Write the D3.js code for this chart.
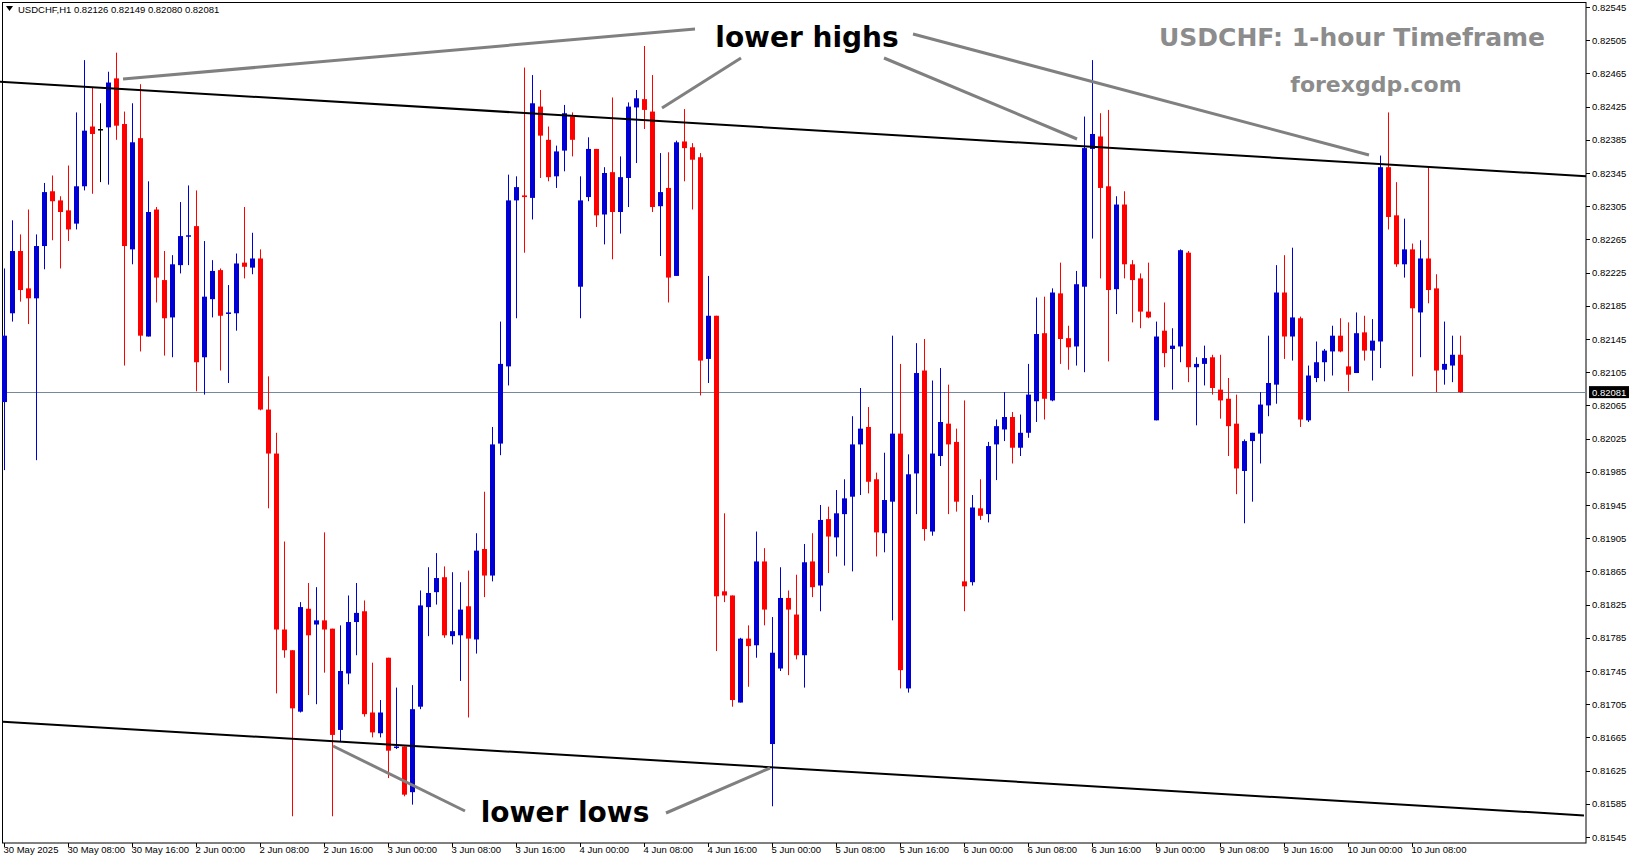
<!DOCTYPE html>
<html>
<head>
<meta charset="utf-8">
<script src="https://cdn.jsdelivr.net/npm/d3@7"></script>
<style>
  body { margin: 0; background: #fff; }
  svg { display: block; }
</style>
</head>
<body>
<svg id="chart"></svg>
<script>
/* chart data: USDCHF H1, 30 May 2025 00:00 .. 10 Jun 2025 14:00 */
const opens = [0.82069,0.82176,0.82251,0.82206,0.82194,0.82257,0.82323,0.82312,0.82300,0.82284,0.82329,0.82401,0.82398,0.82400,0.82459,0.82404,0.82253,0.82387,0.82148,0.82301,0.82216,0.82171,0.82234,0.82269,0.82281,0.82123,0.82193,0.82228,0.82176,0.82176,0.82237,0.82231,0.82242,0.82060,0.82007,0.81795,0.81770,0.81696,0.81820,0.81801,0.81806,0.81796,0.81674,0.81742,0.81804,0.81817,0.81695,0.81670,0.81761,0.81653,0.81654,0.81599,0.81702,0.81822,0.81840,0.81858,0.81787,0.81788,0.81823,0.81783,0.81892,0.81860,0.82019,0.82112,0.82312,0.82318,0.82315,0.82425,0.82385,0.82341,0.82372,0.82413,0.82208,0.82316,0.82374,0.82295,0.82346,0.82298,0.82339,0.82424,0.82434,0.82419,0.82305,0.82327,0.82221,0.82383,0.82376,0.82364,0.82121,0.82173,0.81841,0.81836,0.81707,0.81784,0.81776,0.81877,0.81657,0.81748,0.81833,0.81813,0.81764,0.81877,0.81848,0.81928,0.81906,0.81934,0.81955,0.82018,0.82039,0.81976,0.81911,0.81949,0.82031,0.81724,0.81983,0.82107,0.81913,0.82004,0.82043,0.82021,0.81853,0.81852,0.81941,0.81934,0.82018,0.82036,0.82051,0.82014,0.82032,0.82070,0.82152,0.82071,0.82200,0.82146,0.82136,0.82208,0.82374,0.82389,0.82329,0.82205,0.82307,0.82235,0.82218,0.82178,0.82047,0.82155,0.82133,0.82136,0.82249,0.82111,0.82115,0.82123,0.82084,0.82073,0.82043,0.81986,0.82022,0.82031,0.82065,0.82090,0.82201,0.82148,0.82170,0.82047,0.82098,0.82117,0.82130,0.82149,0.82112,0.82104,0.82153,0.82131,0.82142,0.82352,0.82294,0.82235,0.82253,0.82177,0.82242,0.82206,0.82108,0.82113,0.82126];
const highs = [0.82230,0.82288,0.82271,0.82301,0.82271,0.82333,0.82342,0.82317,0.82354,0.82418,0.82481,0.82448,0.82429,0.82467,0.82490,0.82419,0.82429,0.82452,0.82335,0.82304,0.82251,0.82246,0.82310,0.82330,0.82324,0.82263,0.82240,0.82230,0.82210,0.82248,0.82304,0.82273,0.82253,0.82100,0.82032,0.81901,0.81770,0.81828,0.81851,0.81846,0.81912,0.81796,0.81800,0.81836,0.81851,0.81830,0.81755,0.81710,0.81761,0.81725,0.81654,0.81728,0.81842,0.81870,0.81887,0.81871,0.81864,0.81852,0.81866,0.81911,0.81961,0.82039,0.82166,0.82343,0.82341,0.82472,0.82463,0.82445,0.82401,0.82378,0.82427,0.82418,0.82341,0.82388,0.82374,0.82352,0.82436,0.82365,0.82430,0.82445,0.82498,0.82463,0.82369,0.82370,0.82384,0.82422,0.82381,0.82369,0.82221,0.82173,0.81935,0.81836,0.81785,0.81800,0.81913,0.81893,0.81810,0.81870,0.81842,0.81861,0.81898,0.81911,0.81945,0.81943,0.81963,0.81976,0.82052,0.82086,0.82063,0.81984,0.82008,0.82149,0.82115,0.82006,0.82140,0.82145,0.82095,0.82110,0.82090,0.82037,0.82071,0.81957,0.81976,0.82021,0.82048,0.82081,0.82057,0.82054,0.82115,0.82195,0.82196,0.82206,0.82237,0.82161,0.82227,0.82413,0.82481,0.82417,0.82421,0.82317,0.82323,0.82240,0.82224,0.82237,0.82166,0.82189,0.82158,0.82253,0.82251,0.82123,0.82137,0.82126,0.82126,0.82098,0.82078,0.82024,0.82032,0.82081,0.82149,0.82234,0.82246,0.82255,0.82172,0.82113,0.82142,0.82133,0.82161,0.82170,0.82165,0.82177,0.82173,0.82169,0.82366,0.82418,0.82334,0.82290,0.82260,0.82264,0.82353,0.82223,0.82166,0.82149,0.82149];
const lows = [0.81987,0.82166,0.82190,0.82163,0.81999,0.82229,0.82264,0.82230,0.82263,0.82277,0.82324,0.82320,0.82334,0.82331,0.82385,0.82113,0.82235,0.82130,0.82148,0.82189,0.82125,0.82123,0.82224,0.82234,0.82082,0.82078,0.82171,0.82107,0.82092,0.82155,0.82218,0.82223,0.82059,0.81941,0.81718,0.81761,0.81570,0.81695,0.81716,0.81705,0.81743,0.81570,0.81660,0.81729,0.81764,0.81690,0.81665,0.81665,0.81616,0.81651,0.81594,0.81584,0.81699,0.81787,0.81825,0.81785,0.81777,0.81733,0.81689,0.81766,0.81834,0.81853,0.82005,0.82089,0.82170,0.82249,0.82289,0.82339,0.82335,0.82327,0.82347,0.82365,0.82170,0.82311,0.82280,0.82259,0.82241,0.82272,0.82304,0.82357,0.82398,0.82298,0.82245,0.82189,0.82221,0.82335,0.82301,0.82077,0.82092,0.81769,0.81828,0.81702,0.81707,0.81726,0.81761,0.81800,0.81582,0.81745,0.81740,0.81759,0.81725,0.81834,0.81817,0.81863,0.81883,0.81872,0.81865,0.81957,0.81959,0.81883,0.81888,0.81806,0.81724,0.81719,0.81934,0.81902,0.81908,0.81992,0.81934,0.81937,0.81817,0.81848,0.81927,0.81924,0.81975,0.82022,0.81995,0.82004,0.82026,0.82045,0.82048,0.82070,0.82115,0.82108,0.82113,0.82105,0.82266,0.82218,0.82118,0.82175,0.82218,0.82165,0.82158,0.82170,0.82047,0.82111,0.82084,0.82117,0.82093,0.82041,0.82089,0.82078,0.82049,0.82004,0.81958,0.81923,0.81949,0.81995,0.82052,0.82067,0.82121,0.82119,0.82039,0.82045,0.82093,0.82094,0.82101,0.82129,0.82082,0.82104,0.82119,0.82095,0.82110,0.82277,0.82232,0.82219,0.82100,0.82123,0.82188,0.82081,0.82090,0.82093,0.82080];
const closes = [0.82149,0.82251,0.82204,0.82194,0.82257,0.82322,0.82311,0.82298,0.82277,0.82329,0.82396,0.82392,0.82398,0.82454,0.82402,0.82257,0.82382,0.82149,0.82298,0.82219,0.82170,0.82235,0.82269,0.82270,0.82117,0.82196,0.82227,0.82173,0.82177,0.82236,0.82232,0.82242,0.82060,0.82007,0.81795,0.81770,0.81700,0.81822,0.81788,0.81806,0.81795,0.81668,0.81745,0.81804,0.81815,0.81693,0.81671,0.81695,0.81649,0.81654,0.81596,0.81699,0.81824,0.81839,0.81857,0.81788,0.81793,0.81819,0.81784,0.81890,0.81860,0.82018,0.82115,0.82312,0.82328,0.82316,0.82429,0.82390,0.82340,0.82371,0.82417,0.82385,0.82312,0.82374,0.82294,0.82345,0.82298,0.82340,0.82425,0.82435,0.82421,0.82304,0.82322,0.82219,0.82382,0.82375,0.82361,0.82119,0.82173,0.81835,0.81836,0.81710,0.81784,0.81775,0.81877,0.81819,0.81767,0.81833,0.81819,0.81764,0.81876,0.81846,0.81927,0.81907,0.81935,0.81953,0.82018,0.82037,0.81973,0.81912,0.81951,0.82031,0.81746,0.81982,0.82104,0.81916,0.82007,0.82045,0.82018,0.81949,0.81847,0.81942,0.81932,0.82016,0.82040,0.82051,0.82014,0.82032,0.82078,0.82151,0.82073,0.82201,0.82145,0.82135,0.82211,0.82375,0.82392,0.82327,0.82204,0.82307,0.82235,0.82216,0.82178,0.82171,0.82148,0.82128,0.82137,0.82252,0.82111,0.82115,0.82122,0.82086,0.82071,0.82040,0.81989,0.82022,0.82032,0.82066,0.82092,0.82201,0.82148,0.82171,0.82048,0.82101,0.82117,0.82131,0.82149,0.82130,0.82102,0.82152,0.82131,0.82143,0.82352,0.82292,0.82235,0.82253,0.82182,0.82242,0.82204,0.82107,0.82115,0.82126,0.82081];

/* time labels, one every 8 bars starting at bar 0 */
const timeLabels = ["30 May 2025","30 May 08:00","30 May 16:00","2 Jun 00:00","2 Jun 08:00","2 Jun 16:00","3 Jun 00:00","3 Jun 08:00","3 Jun 16:00","4 Jun 00:00","4 Jun 08:00","4 Jun 16:00","5 Jun 00:00","5 Jun 08:00","5 Jun 16:00","6 Jun 00:00","6 Jun 08:00","6 Jun 16:00","9 Jun 00:00","9 Jun 08:00","9 Jun 16:00","10 Jun 00:00","10 Jun 08:00"];
const priceTicks = d3.range(0, 26).map(i => +(0.81545 + i * 0.0004).toFixed(5));
const lastPrice = 0.82081;

/* channel lines as [bar index, price] pairs */
const upperChannel = [[-0.5, 0.82455], [197.75, 0.82341]];
const lowerChannel = [[-0.125, 0.81684], [197.5, 0.81571]];

const W = 1631, H = 861;
const plotRight = 1586, plotBottom = 843;

const svg = d3.select("#chart").attr("width", W).attr("height", H);

const x = d3.scaleLinear().domain([0, opens.length - 1]).range([4, 4 + 8 * (opens.length - 1)]);
const y = d3.scaleLinear().domain([0.81545, 0.82545]).range([837, 7]);

const bars = opens.map((o, i) => ({ i, o, h: highs[i], l: lows[i], c: closes[i] }));

/* frame */
svg.append("rect")
  .attr("x", 2.5).attr("y", 2.5)
  .attr("width", plotRight - 2.5).attr("height", plotBottom - 2.5)
  .attr("fill", "none").attr("stroke", "#000").attr("stroke-width", 1);

/* last price line */
svg.append("line")
  .attr("x1", 3).attr("x2", plotRight)
  .attr("y1", Math.round(y(lastPrice)) + 0.5).attr("y2", Math.round(y(lastPrice)) + 0.5)
  .attr("stroke", "#778899").attr("stroke-width", 1);

/* candles */
const colorOf = d => d.c > d.o ? "#0000d4" : (d.c < d.o ? "#ff0000" : "#000");
const g = svg.append("g");
g.selectAll("line.wick").data(bars).join("line")
  .attr("class", "wick")
  .attr("x1", d => Math.round(x(d.i)) + 0.5).attr("x2", d => Math.round(x(d.i)) + 0.5)
  .attr("y1", d => y(d.h)).attr("y2", d => y(d.l))
  .attr("stroke", colorOf).attr("stroke-width", 1);
g.selectAll("rect.body").data(bars).join("rect")
  .attr("class", "body")
  .attr("x", d => Math.round(x(d.i)) - 2)
  .attr("y", d => y(Math.max(d.o, d.c)))
  .attr("width", 5)
  .attr("height", d => Math.max(1.5, Math.abs(y(d.o) - y(d.c))))
  .attr("fill", colorOf);

/* channel lines */
const chLine = d3.line().x(d => x(d[0])).y(d => y(d[1]));
[upperChannel, lowerChannel].forEach(pts => {
  svg.append("path").attr("d", chLine(pts))
    .attr("fill", "none").attr("stroke", "#000").attr("stroke-width", 2);
});

/* annotation arrows */
const pointers = [
  [695, 29, 123, 79], [741, 58, 662, 108], [884, 58, 1077, 139], [913, 34, 1369, 155],
  [465, 811, 333, 746], [666, 813, 770, 768]
];
svg.selectAll("line.ptr").data(pointers).join("line")
  .attr("x1", d => d[0]).attr("y1", d => d[1]).attr("x2", d => d[2]).attr("y2", d => d[3])
  .attr("stroke", "#808080").attr("stroke-width", 3);

svg.append("text").attr("x", 807).attr("y", 47).attr("text-anchor", "middle")
  .attr("font-family", "DejaVu Sans").attr("font-weight", "bold").attr("font-size", 28)
  .attr("fill", "#000").text("lower highs");
svg.append("text").attr("x", 565).attr("y", 822).attr("text-anchor", "middle")
  .attr("font-family", "DejaVu Sans").attr("font-weight", "bold").attr("font-size", 28)
  .attr("fill", "#000").text("lower lows");

svg.append("text").attr("x", 1352).attr("y", 46).attr("text-anchor", "middle")
  .attr("font-family", "DejaVu Sans").attr("font-weight", "bold").attr("font-size", 25)
  .attr("fill", "#8c8c8c").text("USDCHF: 1-hour Timeframe");
svg.append("text").attr("x", 1376).attr("y", 92).attr("text-anchor", "middle")
  .attr("font-family", "DejaVu Sans").attr("font-weight", "bold").attr("font-size", 22)
  .attr("fill", "#8c8c8c").text("forexgdp.com");

/* header */
svg.append("path").attr("d", "M6,6 L13,6 L9.5,11 Z").attr("fill", "#000");
svg.append("text").attr("x", 18).attr("y", 13)
  .attr("font-family", "Liberation Sans").attr("font-size", 9.5).attr("fill", "#000")
  .text(`USDCHF,H1  ${opens[opens.length - 1].toFixed(5)} ${highs[highs.length - 1].toFixed(5)} ${lows[lows.length - 1].toFixed(5)} ${closes[closes.length - 1].toFixed(5)}`);

/* price axis */
const axisG = svg.append("g").attr("transform", `translate(${plotRight},0)`);
axisG.selectAll("line.tk").data(priceTicks).join("line")
  .attr("x1", 0).attr("x2", 4)
  .attr("y1", d => Math.round(y(d)) + 0.5).attr("y2", d => Math.round(y(d)) + 0.5)
  .attr("stroke", "#000");
axisG.selectAll("text.tk").data(priceTicks).join("text")
  .attr("x", 6).attr("y", d => y(d) + 3.5)
  .attr("font-family", "Liberation Sans").attr("font-size", 9.5).attr("fill", "#000")
  .text(d => d.toFixed(5));
axisG.append("rect").attr("x", 3).attr("y", y(lastPrice) - 6)
  .attr("width", 40).attr("height", 12).attr("fill", "#000");
axisG.append("text").attr("x", 6).attr("y", y(lastPrice) + 3.5)
  .attr("font-family", "Liberation Sans").attr("font-size", 9.5).attr("fill", "#fff")
  .text(lastPrice.toFixed(5));

/* time axis */
const timeG = svg.append("g");
timeLabels.forEach((t, k) => {
  const px = Math.round(x(k * 8)) + 0.5;
  timeG.append("line").attr("x1", px).attr("x2", px)
    .attr("y1", plotBottom).attr("y2", plotBottom + 4).attr("stroke", "#000");
  timeG.append("text").attr("x", px - 1).attr("y", 853)
    .attr("font-family", "Liberation Sans").attr("font-size", 9.5).attr("fill", "#000")
    .text(t);
});
</script>
</body>
</html>
